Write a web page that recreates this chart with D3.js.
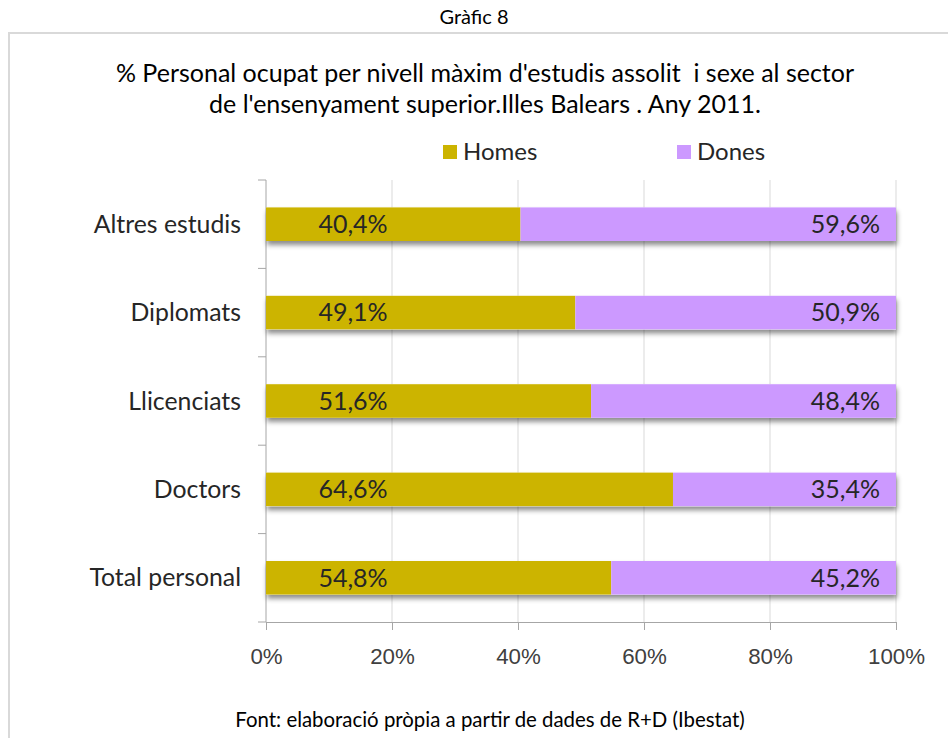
<!DOCTYPE html>
<html><head><meta charset="utf-8">
<script src="https://cdn.jsdelivr.net/npm/d3@7"></script>
<style>
body{margin:0;background:#fff;}
svg{display:block;font-family:"Lato",sans-serif;}
</style></head>
<body><svg id="c" width="948" height="738"></svg>
<script>
const categories = ["Altres estudis","Diplomats","Llicenciats","Doctors","Total personal"];
const homes = [40.4, 49.1, 51.6, 64.6, 54.8];
const dones = [59.6, 50.9, 48.4, 35.4, 45.2];
const seriesNames = ["Homes","Dones"];
const colors = ["#CCB400","#CC99FF"];
const xTicks = [0,20,40,60,80,100];
const titleLines = ["% Personal ocupat per nivell màxim d'estudis assolit  i sexe al sector","de l'ensenyament superior.Illes Balears . Any 2011."];

const svg = d3.select("#c");
const fmt = v => v.toFixed(1).replace(".", ",") + "%";

const defs = svg.append("defs");
const f = defs.append("filter").attr("id","sh").attr("x","-5%").attr("y","-30%").attr("width","110%").attr("height","180%");
f.append("feDropShadow").attr("dx",1).attr("dy",4).attr("stdDeviation",2.5).attr("flood-color","#000").attr("flood-opacity",0.45);

svg.append("text").attr("x",474).attr("y",24).attr("text-anchor","middle").attr("font-size",20).attr("fill","#000").text("Gràfic 8");
svg.append("rect").attr("x",9).attr("y",33).attr("width",960).attr("height",720).attr("fill","#fff").attr("stroke","#d9d9d9").attr("stroke-width",2);

svg.selectAll(".title").data(titleLines).join("text")
  .attr("x",485).attr("y",(d,i)=>82+i*31).attr("text-anchor","middle")
  .attr("font-size",25).attr("fill","#000").style("white-space","pre").text(d=>d);

const x = d3.scaleLinear().domain([0,100]).range([266,896]);
const y = d3.scaleBand().domain(categories).range([180,622]).paddingInner(0.62).paddingOuter(0.31);

// grid
svg.append("g").selectAll("line").data(xTicks.slice(1)).join("line")
  .attr("x1",d=>x(d)).attr("x2",d=>x(d)).attr("y1",180).attr("y2",622)
  .attr("stroke","#d9d9d9").attr("stroke-width",1);

// x axis
const xa = svg.append("g").attr("transform","translate(0,622)")
  .call(d3.axisBottom(x).tickValues(xTicks).tickFormat(d=>d+"%").tickSize(8).tickPadding(18));
xa.select(".domain").attr("stroke","#a6a6a6");
xa.selectAll(".tick line").attr("stroke","#a6a6a6");
xa.selectAll("text").attr("font-size",22.3).attr("fill","#404040").attr("font-family",null);

// y axis
const yBounds = d3.range(categories.length+1).map(i=>180+i*(622-180)/categories.length);
const yg = svg.append("g");
yg.append("line").attr("x1",266).attr("x2",266).attr("y1",180).attr("y2",622).attr("stroke","#a6a6a6");
yg.selectAll(".yt").data(yBounds).join("line").attr("class","yt")
  .attr("x1",258).attr("x2",266).attr("y1",d=>d).attr("y2",d=>d).attr("stroke","#a6a6a6");
yg.selectAll(".yl").data(categories).join("text").attr("class","yl")
  .attr("x",241).attr("y",d=>y(d)+y.bandwidth()/2).attr("dy","0.35em")
  .attr("text-anchor","end").attr("font-size",24.8).attr("fill","#262626").text(d=>d);

// bars
const rows = categories.map((c,i)=>({c, h:homes[i], d:dones[i]}));
const bg = svg.append("g");
bg.selectAll(".shadow").data(rows).join("rect").attr("class","shadow")
  .attr("x",x(0)).attr("y",d=>y(d.c)).attr("width",d=>x(d.h+d.d)-x(0)).attr("height",y.bandwidth())
  .attr("fill","#fff").attr("filter","url(#sh)");
bg.selectAll(".bh").data(rows).join("rect").attr("class","bh")
  .attr("x",x(0)).attr("y",d=>y(d.c)).attr("width",d=>x(d.h)-x(0)).attr("height",y.bandwidth()).attr("fill",colors[0]);
bg.selectAll(".bd").data(rows).join("rect").attr("class","bd")
  .attr("x",d=>x(d.h)).attr("y",d=>y(d.c)).attr("width",d=>x(d.h+d.d)-x(d.h)).attr("height",y.bandwidth()).attr("fill",colors[1]);

bg.selectAll(".lh").data(rows).join("text").attr("class","lh")
  .attr("x",x(0)+87).attr("y",d=>y(d.c)+y.bandwidth()/2).attr("dy","0.35em").attr("text-anchor","middle")
  .attr("font-size",25).attr("fill","#262626").text(d=>fmt(d.h));
bg.selectAll(".ld").data(rows).join("text").attr("class","ld")
  .attr("x",x(100)-16).attr("y",d=>y(d.c)+y.bandwidth()/2).attr("dy","0.35em").attr("text-anchor","end")
  .attr("font-size",25).attr("fill","#262626").text(d=>fmt(d.d));

// legend
const legX = [443,677];
const lg = svg.append("g");
seriesNames.forEach((n,i)=>{
  lg.append("rect").attr("x",legX[i]).attr("y",145).attr("width",14).attr("height",14).attr("fill",colors[i]);
  lg.append("text").attr("x",legX[i]+20).attr("y",152).attr("dy","0.35em").attr("font-size",24).attr("fill","#262626").text(n);
});

svg.append("text").attr("x",490).attr("y",727).attr("text-anchor","middle").attr("font-size",20.4).attr("fill","#000")
  .text("Font: elaboració pròpia a partir de dades de R+D (Ibestat)");
</script></body></html>
